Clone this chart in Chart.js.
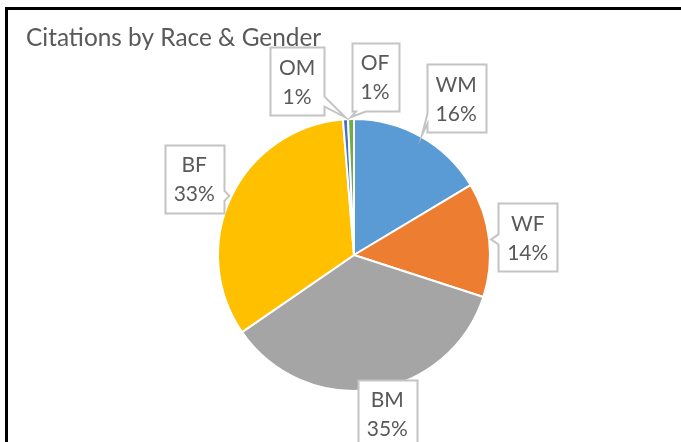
<!DOCTYPE html>
<html>
<head>
<meta charset="utf-8">
<script src="https://cdn.jsdelivr.net/npm/chart.js@4.4.1/dist/chart.umd.min.js"></script>
<style>
  html, body { margin: 0; padding: 0; background: #fff; overflow: hidden; }
  #frame { position: absolute; left: 5px; top: 7px; width: 720px; height: 480px; border: 3px solid #000; box-sizing: border-box; }
  #wrap { position: absolute; left: 0; top: 0; width: 681px; height: 442px; }
</style>
</head>
<body>
<div id="frame"></div>
<div id="wrap"><canvas id="pieChart" width="681" height="442"></canvas></div>
<script>
// chart data (shares in %)
const chartTitle = 'Citations by Race & Gender';
const categories = ['WM', 'WF', 'BM', 'BF', 'OM', 'OF'];
const shares = [16.4, 13.6, 35.4, 33.3, 0.6, 0.7];
const sliceColors = ['#5B9BD5', '#ED7D31', '#A5A5A5', '#FFC000', '#4472C4', '#70AD47'];

const textColor = '#595959';
const fontFamily = 'Lato, "Open Sans", sans-serif';

// draws a rectangle with a wedge pointing at (tx, ty)
function calloutPath(ctx, bx, by, w, h, tx, ty, side, b0, b1) {
  ctx.beginPath();
  ctx.moveTo(bx, by);
  if (side === 'top') { ctx.lineTo(b0, by); ctx.lineTo(tx, ty); ctx.lineTo(b1, by); }
  ctx.lineTo(bx + w, by);
  if (side === 'right') { ctx.lineTo(bx + w, b0); ctx.lineTo(tx, ty); ctx.lineTo(bx + w, b1); }
  ctx.lineTo(bx + w, by + h);
  if (side === 'bottom') { ctx.lineTo(b1, by + h); ctx.lineTo(tx, ty); ctx.lineTo(b0, by + h); }
  ctx.lineTo(bx, by + h);
  if (side === 'left') { ctx.lineTo(bx, b1); ctx.lineTo(tx, ty); ctx.lineTo(bx, b0); }
  ctx.closePath();
}

const calloutPlugin = {
  id: 'callouts',
  afterDatasetsDraw(chart, args, opts) {
    const ctx = chart.ctx;
    const meta = chart.getDatasetMeta(0);
    const total = shares.reduce((a, b) => a + b, 0);
    ctx.save();
    ctx.font = opts.font;
    meta.data.forEach((arc, i) => {
      const p = arc.getProps(['x', 'y', 'startAngle', 'endAngle', 'outerRadius'], true);
      const mid = (p.startAngle + p.endAngle) / 2;
      const ux = Math.cos(mid), uy = Math.sin(mid);
      const tx = p.x + ux * (p.outerRadius + 2);
      const ty = p.y + uy * (p.outerRadius + 2);
      const place = opts.placement[i];
      const cx = p.x + ux * p.outerRadius * place.dist + place.shift[0];
      const cy = p.y + uy * p.outerRadius * place.dist + place.shift[1];

      const lines = [categories[i], Math.round(shares[i] / total * 100) + '%'];
      const w = Math.round(Math.max(...lines.map(t => ctx.measureText(t).width)) + opts.padX * 2);
      const h = opts.lineHeight * 2 + opts.padY * 2;
      const bx = Math.round(cx - w / 2) + 0.5, by = Math.round(cy - h / 2) + 0.5;

      const vx = tx - cx, vy = ty - cy;
      let side = null, b0 = 0, b1 = 0;
      const inside = Math.abs(vx) < w / 2 && Math.abs(vy) < h / 2;
      if (!inside) {
        const half = opts.wedgeBase / 2;
        if (Math.abs(vx) / (w / 2) > Math.abs(vy) / (h / 2)) {
          side = vx > 0 ? 'right' : 'left';
          const c = Math.min(Math.max(ty, cy - h * 0.3), cy + h * 0.3);
          b0 = c - half; b1 = c + half;
        } else {
          side = vy > 0 ? 'bottom' : 'top';
          const c = Math.min(Math.max(tx, cx - w * 0.3), cx + w * 0.3);
          b0 = c - half; b1 = c + half;
        }
      }
      calloutPath(ctx, bx, by, w, h, tx, ty, side, b0, b1);
      ctx.fillStyle = '#fff';
      ctx.fill();
      ctx.lineWidth = 2;
      ctx.strokeStyle = opts.borderColor;
      ctx.stroke();

      ctx.fillStyle = textColor;
      ctx.textAlign = 'center';
      ctx.textBaseline = 'middle';
      ctx.fillText(lines[0], cx, cy - opts.lineHeight / 2 + 1);
      ctx.fillText(lines[1], cx, cy + opts.lineHeight / 2 + 1);
    });
    ctx.restore();
  },
  afterDraw(chart, args, opts) {
    const ctx = chart.ctx;
    ctx.save();
    ctx.font = opts.titleFont;
    ctx.fillStyle = textColor;
    ctx.textAlign = 'left';
    ctx.textBaseline = 'alphabetic';
    ctx.fillText(chartTitle, 26, 46);
    ctx.restore();
  }
};

new Chart(document.getElementById('pieChart'), {
  type: 'pie',
  data: {
    labels: categories,
    datasets: [{
      data: shares,
      backgroundColor: sliceColors,
      borderColor: '#fff',
      borderWidth: 2
    }]
  },
  options: {
    responsive: false,
    animation: false,
    events: [],
    radius: 136,
    layout: { padding: { left: 218, right: 191, top: 119, bottom: 51 } },
    plugins: {
      legend: { display: false },
      tooltip: { enabled: false },
      callouts: {
        font: '21px ' + fontFamily,
        titleFont: '24.4px ' + fontFamily,
        lineHeight: 29,
        padX: 9,
        padY: 5,
        wedgeBase: 10,
        borderColor: '#C4C4C4',
        placement: [
          { dist: 1.375, shift: [10, 6] },
          { dist: 1.286, shift: [0, 2] },
          { dist: 1.19, shift: [10, -1] },
          { dist: 1.30, shift: [0, 0] },
          { dist: 1.28, shift: [-46, 0] },
          { dist: 1.31, shift: [25, 0] }
        ]
      }
    }
  },
  plugins: [calloutPlugin]
});
</script>
</body>
</html>
